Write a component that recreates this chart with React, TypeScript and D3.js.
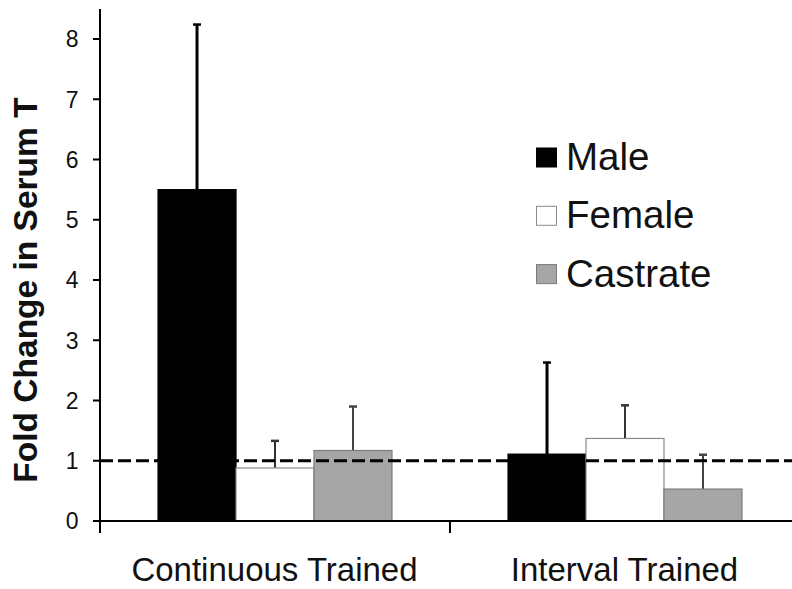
import React from "react";
import * as d3 from "d3";

const categories = ["Continuous Trained", "Interval Trained"];
const seriesNames = ["Male", "Female", "Castrate"];
const maleValues = [5.5, 1.11];
const maleErrors = [2.74, 1.52];
const femaleValues = [0.88, 1.37];
const femaleErrors = [0.45, 0.55];
const castrateValues = [1.17, 0.53];
const castrateErrors = [0.73, 0.57];
const yTicks = [0, 1, 2, 3, 4, 5, 6, 7, 8];
const referenceLevel = 1;

const W = 792;
const H = 589;
const FONT = "'Liberation Sans', Arial, Helvetica, sans-serif";

const seriesStyle: Record<string, { fill: string; stroke: string; err: string; errW: number }> = {
  Male: { fill: "#000000", stroke: "#000000", err: "#000000", errW: 3 },
  Female: { fill: "#ffffff", stroke: "#8a8a8a", err: "#333333", errW: 2 },
  Castrate: { fill: "#a6a6a6", stroke: "#7a7a7a", err: "#444444", errW: 2 },
};

export default function App() {
  const values: Record<string, number[]> = { Male: maleValues, Female: femaleValues, Castrate: castrateValues };
  const errors: Record<string, number[]> = { Male: maleErrors, Female: femaleErrors, Castrate: castrateErrors };

  const x0 = d3.scaleBand<string>().domain(categories).range([100, 800]).padding(0);
  const x1 = d3.scaleBand<string>().domain(seriesNames).range([0, x0.bandwidth()]).paddingInner(0).paddingOuter(0.744);
  const y = d3.scaleLinear().domain([0, 8]).range([521, 39]);
  const yTop = y(8.5);
  const x0Left = x0.range()[0];

  return (
    <svg width={W} height={H} style={{ position: "absolute", left: 0, top: 0, background: "#fff" }} fontFamily={FONT}>
      <rect x={0} y={0} width={W} height={H} fill="#fff" />
      {/* bars */}
      {categories.map((c, ci) =>
        seriesNames.map((s) => {
          const st = seriesStyle[s];
          const bx = (x0(c) as number) + (x1(s) as number);
          const bw = x1.bandwidth();
          const v = values[s][ci];
          const e = errors[s][ci];
          const cx = bx + bw / 2;
          return (
            <g key={c + s}>
              <line x1={cx} x2={cx} y1={y(v)} y2={y(v + e)} stroke={st.err} strokeWidth={st.errW} />
              <line x1={cx - 4} x2={cx + 4} y1={y(v + e)} y2={y(v + e)} stroke={st.err} strokeWidth={2.5} />
              <rect x={bx} y={y(v)} width={bw} height={y(0) - y(v)} fill={st.fill} stroke={st.stroke} strokeWidth={1.2} />
            </g>
          );
        })
      )}
      {/* reference dashed line */}
      <line x1={x0Left} x2={W} y1={y(referenceLevel)} y2={y(referenceLevel)} stroke="#000" strokeWidth={3} strokeDasharray="13,5" />
      {/* y axis */}
      <line x1={x0Left} x2={x0Left} y1={yTop} y2={y(0) + 12} stroke="#000" strokeWidth={2} />
      {yTicks.map((t) => (
        <g key={t}>
          <line x1={x0Left - 7} x2={x0Left} y1={y(t)} y2={y(t)} stroke="#000" strokeWidth={2} />
          <text x={78.5} y={y(t)} dy="0.36em" textAnchor="end" fontSize={23} fill="#111">
            {t}
          </text>
        </g>
      ))}
      {/* x axis */}
      <line x1={x0Left} x2={W} y1={y(0)} y2={y(0)} stroke="#000" strokeWidth={2} />
      {categories.map((c) => (
        <line key={c + "tick"} x1={(x0(c) as number) + x0.bandwidth()} x2={(x0(c) as number) + x0.bandwidth()} y1={y(0)} y2={y(0) + 12} stroke="#000" strokeWidth={2} />
      ))}
      {categories.map((c) => (
        <text key={c} x={(x0(c) as number) + x0.bandwidth() / 2 - 0.5} y={581} textAnchor="middle" fontSize={33} fill="#111">
          {c}
        </text>
      ))}
      {/* y label */}
      <text transform={`translate(37,${290}) rotate(-90)`} textAnchor="middle" fontSize={33.5} fontWeight="bold" fill="#111">
        Fold Change in Serum T
      </text>
      {/* legend */}
      {seriesNames.map((s, i) => {
        const st = seriesStyle[s];
        const base = 170 + i * 58.3;
        return (
          <g key={"lg" + s}>
            <rect x={536.5} y={base - 22} width={20} height={19} fill={st.fill} stroke={st.stroke} strokeWidth={1} />
            <text x={566} y={base} fontSize={38.5} fill="#111">
              {s}
            </text>
          </g>
        );
      })}
    </svg>
  );
}
